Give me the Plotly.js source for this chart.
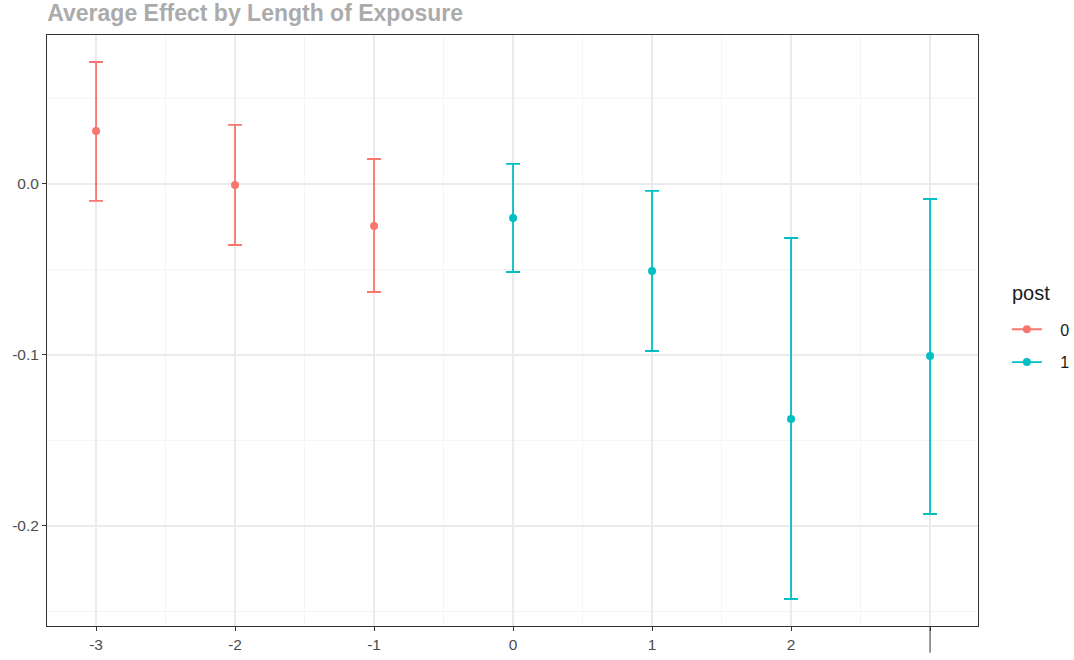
<!DOCTYPE html>
<html><head><meta charset="utf-8">
<script src="https://cdn.plot.ly/plotly-3.0.1.min.js"></script>
<style>body{margin:0;background:#fff}#c{width:1074px;height:660px}</style>
</head><body><div id="c"></div>
<script>
const exposure0 = [-3, -2, -1];
const estimate0 = [0.031, -0.0006, -0.0246];
const upper0 = [0.0713, 0.0345, 0.0146];
const lower0 = [-0.0099, -0.0357, -0.0632];

const exposure1 = [0, 1, 2, 3];
const estimate1 = [-0.0199, -0.0509, -0.1374, -0.1006];
const upper1 = [0.0117, -0.0041, -0.0316, -0.0088];
const lower1 = [-0.0515, -0.0977, -0.2427, -0.193];

const xTickVals = [-3, -2, -1, 0, 1, 2, 3];
const xTickText = ['-3', '-2', '-1', '0', '1', '2', ''];
const yTickVals = [0, -0.1, -0.2];
const yTickText = ['0.0', '-0.1', '-0.2'];
const legendTitle = 'post';
const legendNames = ['0', '1'];

const c0 = '#F8766D', c1 = '#00BFC4';

function errTrace(x, y, up, lo, color, name) {
  return {
    x: x, y: y, type: 'scatter', mode: 'markers', name: name, showlegend: false,
    marker: {color: color, size: 8},
    error_y: {type: 'data', symmetric: false,
      array: up.map((u, i) => u - y[i]),
      arrayminus: lo.map((l, i) => y[i] - l),
      color: color, thickness: 1.8, width: 7}
  };
}
function legTrace(color, name, grp) {
  return {x: [null], y: [null], type: 'scatter', mode: 'lines+markers',
    name: '\u00a0\u00a0\u00a0' + name, legendgroup: grp,
    line: {color: color, width: 1.8}, marker: {color: color, size: 8}};
}

const data = [
  errTrace(exposure0, estimate0, upper0, lower0, c0, legendNames[0]),
  errTrace(exposure1, estimate1, upper1, lower1, c1, legendNames[1]),
  legTrace(c0, legendNames[0], 'a'), legTrace(c1, legendNames[1], 'b')
];

const layout = {
  width: 1074, height: 660,
  margin: {l: 47, r: 96, t: 35, b: 34, autoexpand: false},
  paper_bgcolor: '#fff', plot_bgcolor: '#fff',
  font: {family: 'Liberation Sans, Arial, sans-serif', color: '#4d4d4d', size: 15},
  title: {text: '<b>Average Effect by Length of Exposure</b>', x: 0.044, xanchor: 'left', y: 0.98, yanchor: 'middle',
    font: {size: 23, color: '#ABABAB', family: 'Liberation Sans, Arial, sans-serif'}},
  xaxis: {range: [-3.353, 3.345], tickmode: 'array', tickvals: xTickVals, ticktext: xTickText,
    showgrid: true, gridcolor: '#EBEBEB', gridwidth: 1.2, zeroline: false,
    showline: true, linecolor: '#333333', linewidth: 1, mirror: true,
    ticks: 'outside', ticklen: 4, tickcolor: '#333333', tickwidth: 1,
    tickfont: {size: 15.5, color: '#4d4d4d'},
    minor: {tickmode: 'array', tickvals: [-2.5, -1.5, -0.5, 0.5, 1.5, 2.5], showgrid: true, gridcolor: '#F2F2F2', gridwidth: 0.8, ticks: ''}},
  yaxis: {range: [-0.2585, 0.0871], tickmode: 'array', tickvals: yTickVals, ticktext: yTickText,
    showgrid: true, gridcolor: '#EBEBEB', gridwidth: 1.2, zeroline: false,
    showline: true, linecolor: '#333333', linewidth: 1, mirror: true,
    ticks: 'outside', ticklen: 4, tickcolor: '#333333', tickwidth: 1,
    tickfont: {size: 15.5, color: '#4d4d4d'},
    minor: {tickmode: 'array', tickvals: [0.05, -0.05, -0.15, -0.25], showgrid: true, gridcolor: '#F2F2F2', gridwidth: 0.8, ticks: ''}},
  legend: {x: 1.031, xanchor: 'left', y: 0.474, yanchor: 'middle', traceorder: 'grouped',
    font: {size: 16, color: '#1a1a1a'}, tracegroupgap: 9, itemwidth: 30},
  annotations: [{text: legendTitle, xref: 'paper', yref: 'paper', x: 1.034, y: 0.5635,
    xanchor: 'left', yanchor: 'middle', showarrow: false,
    font: {size: 20, color: '#1a1a1a', family: 'Liberation Sans, Arial, sans-serif'}}],
  shapes: [{type: 'line', xref: 'x', yref: 'paper', x0: 3, x1: 3, y0: 0, y1: -0.045,
    line: {color: '#333333', width: 1}}],
  showlegend: true
};

Plotly.newPlot('c', data, layout, {displayModeBar: false, staticPlot: true});
</script></body></html>
